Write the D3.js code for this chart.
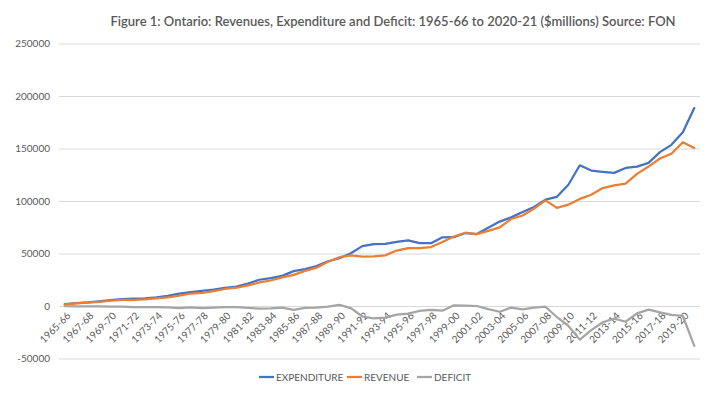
<!DOCTYPE html>
<html><head><meta charset="utf-8">
<script src="https://cdn.jsdelivr.net/npm/d3@7"></script>
<style>
body{margin:0;background:#fff;}
svg{display:block;font-family:Lato, "Open Sans", sans-serif;}
</style></head>
<body><svg id="c" width="720" height="405"></svg>
<script>
const categories = ["1965-66","1966-67","1967-68","1968-69","1969-70","1970-71","1971-72","1972-73","1973-74","1974-75","1975-76","1976-77","1977-78","1978-79","1979-80","1980-81","1981-82","1982-83","1983-84","1984-85","1985-86","1986-87","1987-88","1988-89","1989-90","1990-91","1991-92","1992-93","1993-94","1994-95","1995-96","1996-97","1997-98","1998-99","1999-00","2000-01","2001-02","2002-03","2003-04","2004-05","2005-06","2006-07","2007-08","2008-09","2009-10","2010-11","2011-12","2012-13","2013-14","2014-15","2015-16","2016-17","2017-18","2018-19","2019-20","2020-21"];
const expenditure = [1700,2700,3400,4400,5500,6500,7000,7200,8200,9600,11800,13200,14500,15700,17200,18400,21400,25000,26500,28700,33200,35200,38000,42600,45500,50300,57000,59000,59200,61000,62500,59800,59800,65400,65500,69500,68500,74500,80400,84400,89500,94300,101300,104000,115500,134000,129000,127800,126800,131500,132800,136300,146500,153500,165400,188500];
const revenue = [1500,2400,3100,4000,5000,5900,5900,6200,7200,8300,9800,11900,12400,14100,16200,17400,19700,22400,24300,27200,29600,33400,36500,42100,46500,48300,47000,47200,48200,52800,55200,55100,56100,60900,66200,69800,68500,71500,74900,82900,86200,92800,100600,93500,96500,102000,106000,112300,114800,116500,125800,132800,140500,145000,156000,150500];
const deficit = [-200,-300,-300,-400,-500,-600,-1100,-1000,-1000,-1300,-2000,-1300,-2100,-1600,-1000,-1000,-1700,-2600,-2200,-1500,-3600,-1800,-1500,-500,1000,-2000,-10000,-11800,-11000,-8200,-7300,-4700,-3700,-4500,700,300,0,-3000,-5500,-1500,-3300,-1500,-700,-10500,-19000,-32000,-23000,-15500,-12000,-15000,-7000,-3500,-6000,-8500,-9500,-38000];
const yTicks = [-50000,0,50000,100000,150000,200000,250000];
const tickLabels = ["1965-66","1967-68","1969-70","1971-72","1973-74","1975-76","1977-78","1979-80","1981-82","1983-84","1985-86","1987-88","1989-90","1991-92","1993-94","1995-96","1997-98","1999-00","2001-02","2003-04","2005-06","2007-08","2009-10","2011-12","2013-14","2015-16","2017-18","2019-20"];
const seriesNames = ["EXPENDITURE","REVENUE","DEFICIT"];
const colors = ["#4472C4","#ED7D31","#A5A5A5"];
const title = "Figure 1: Ontario: Revenues, Expenditure and Deficit: 1965-66 to 2020-21 ($millions) Source: FON";

const svg = d3.select("#c");
const x = d3.scalePoint().domain(categories).range([59, 700]).padding(0.5);
const y = d3.scaleLinear().domain([-50000, 250000]).range([358.5, 43.5]);

// gridlines + y labels
const yAxis = d3.axisLeft(y).tickValues(yTicks).tickSize(-(700-59)).tickFormat(d => String(d)).tickPadding(9);
const ga = svg.append("g").attr("transform","translate(59,0)").call(yAxis);
ga.select(".domain").remove();
ga.selectAll(".tick line").attr("stroke","#D9D9D9").attr("stroke-width",1);
ga.selectAll(".tick text").attr("fill","#595959").style("font-size","10px").style("font-family","Lato, sans-serif");

// x labels
const gx = svg.append("g");
gx.selectAll("text").data(tickLabels).join("text")
  .attr("transform", d => `translate(${x(d)+4},${y(0)+8}) rotate(-45)`)
  .attr("text-anchor","end").attr("dy","0.35em")
  .attr("fill","#595959").style("font-size","10px")
  .text(d => d);

// lines
const series = [expenditure, revenue, deficit];
const line = d3.line().x((d,i)=>x(categories[i])).y(d=>y(d));
series.forEach((s,k)=>{
  svg.append("path").datum(s).attr("d", line).attr("fill","none")
    .attr("stroke", colors[k]).attr("stroke-width",2.25).attr("stroke-linejoin","round").attr("stroke-linecap","round");
});

// title
svg.append("text").attr("x", 393).attr("y", 26).attr("text-anchor","middle")
  .attr("fill","#595959").style("font-size","13px").style("font-weight","600").text(title);

// legend
const legX = [259, 347, 417];
const lg = svg.append("g");
seriesNames.forEach((n,k)=>{
  lg.append("line").attr("x1",legX[k]).attr("x2",legX[k]+15).attr("y1",377).attr("y2",377)
    .attr("stroke",colors[k]).attr("stroke-width",2.25);
  lg.append("text").attr("x",legX[k]+17).attr("y",377).attr("dy","0.35em")
    .attr("fill","#595959").style("font-size","10px").text(n);
});
</script></body></html>
